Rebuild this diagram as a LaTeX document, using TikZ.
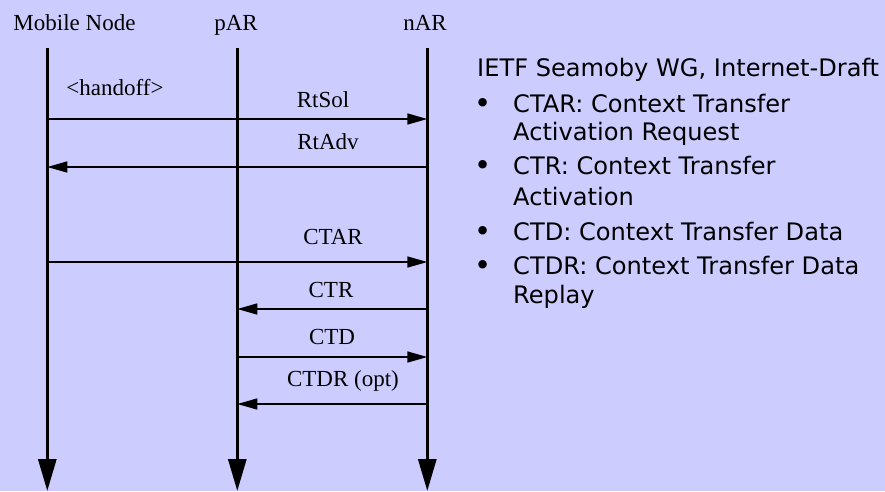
\documentclass[tikz,border=0pt]{standalone}
\usepackage{fontspec}
\setmainfont{Liberation Serif}
\newfontfamily\slidefont{DejaVu Sans}
\usetikzlibrary{positioning,arrows.meta}
\definecolor{slidebg}{HTML}{CCCCFF}

\begin{document}
\begin{tikzpicture}[x=1pt,y=-1pt]
\tikzstyle{life}=[line width=3pt,-{Triangle[length=32pt,width=18pt]}]
\tikzstyle{msg}=[line width=1.5pt,-{Triangle[length=20pt,width=11pt]}]
\tikzstyle{hdr}=[font=\fontsize{23}{27}\selectfont,anchor=base,inner sep=0pt]
\tikzstyle{lbl}=[font=\fontsize{23}{27}\selectfont,anchor=base,inner sep=0pt]
\tikzstyle{side}=[font=\slidefont\fontsize{24.1}{28}\selectfont,anchor=base west,inner sep=0pt]
\tikzstyle{dot}=[font=\slidefont\fontsize{29}{30}\selectfont,anchor=base,inner sep=0pt]

%background of the slide
\fill[slidebg] (0,0) rectangle (885,491);
\useasboundingbox (0,0) rectangle (885,491);

%lifelines
\coordinate (mn top) at (47.3,48);
\coordinate (mn bot) at (47.3,491);
\coordinate (par top) at (237.3,48);
\coordinate (par bot) at (237.3,491);
\coordinate (nar top) at (427.3,48);
\coordinate (nar bot) at (427.3,491);
\draw[life] (mn top) -- (mn bot);
\draw[life] (par top) -- (par bot);
\draw[life] (nar top) -- (nar bot);

\node[hdr] (mn) at (74.5,30) {Mobile Node};
\node[hdr] (par) at (236,30) {pAR};
\node[hdr] (nar) at (425,30) {nAR};

%rows of the messages
\coordinate (rtsol) at (0,119);
\coordinate (rtadv) at (0,167);
\coordinate (ctar) at (0,262);
\coordinate (ctr) at (0,309);
\coordinate (ctd) at (0,357);
\coordinate (ctdr) at (0,404);

\draw[msg] (mn top |- rtsol) -- (nar top |- rtsol);
\draw[msg] (nar top |- rtadv) -- (mn top |- rtadv);
\draw[msg] (mn top |- ctar) -- (nar top |- ctar);
\draw[msg] (nar top |- ctr) -- (par top |- ctr);
\draw[msg] (par top |- ctd) -- (nar top |- ctd);
\draw[msg] (nar top |- ctdr) -- (par top |- ctdr);

%message labels
\node[lbl] (handoff) at (115,95) {\textless handoff\textgreater};
\node[lbl] (rtsol lbl) at (323,107) {RtSol};
\node[lbl] (rtadv lbl) at (328,149) {RtAdv};
\node[lbl] (ctar lbl) at (333,244) {CTAR};
\node[lbl] (ctr lbl) at (331,297) {CTR};
\node[lbl] (ctd lbl) at (332,344) {CTD};
\node[lbl] (ctdr lbl) at (343,386) {CTDR (opt)};

%text on the right
\node[side] (title) at (477,76) {IETF Seamoby WG, Internet-Draft};
\foreach \y/\n in {112/b1,174/b2,240/b3,274/b4}
  \node[dot] (\n) at (483,\y+1.5) {\textbullet};
\node[side] (t1) at (513,112) {CTAR: Context Transfer};
\node[side] (t1b) at (513,140) {Activation Request};
\node[side] (t2) at (513,174) {CTR: Context Transfer};
\node[side] (t2b) at (513,205) {Activation};
\node[side] (t3) at (513,240) {CTD: Context Transfer Data};
\node[side] (t4) at (513,274) {CTDR: Context Transfer Data};
\node[side] (t4b) at (513,303) {Replay};
\end{tikzpicture}
\end{document}
